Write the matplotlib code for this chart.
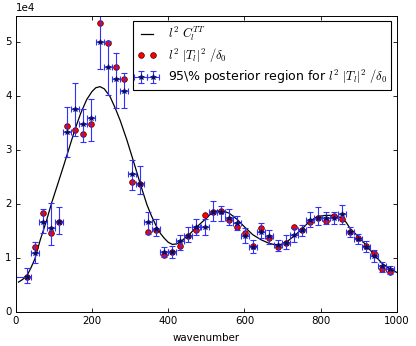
import matplotlib
matplotlib.use("Agg")
import matplotlib.pyplot as plt
import numpy as np

plt.style.use('classic')

# theory curve  l^2 C_l^TT  (units of 1e4)
curve_l = [7, 18, 30, 40, 50, 64, 80, 94, 110, 125, 140, 155, 170, 186, 200, 210,
           221, 232, 247, 261, 274, 291, 309, 326, 344, 356, 368, 380, 389, 400,
           411, 422, 432, 453, 474, 496, 512, 527, 545, 560, 580, 601, 622, 644,
           665, 677, 690, 700, 708, 729, 750, 771, 792, 813, 835, 856, 867, 877,
           898, 919, 940, 961, 983, 1000]
curve_v = [0.55, 0.60, 0.68, 0.82, 0.98, 1.33, 1.68, 2.02, 2.37, 2.70, 3.04, 3.38,
           3.68, 3.94, 4.09, 4.16, 4.18, 4.14, 4.00, 3.78, 3.55, 3.20, 2.79, 2.39,
           1.99, 1.78, 1.60, 1.45, 1.37, 1.29, 1.25, 1.26, 1.30, 1.42, 1.57, 1.71,
           1.82, 1.87, 1.87, 1.83, 1.72, 1.57, 1.43, 1.335, 1.27, 1.25, 1.245, 1.26,
           1.28, 1.40, 1.53, 1.68, 1.77, 1.79, 1.79, 1.74, 1.66, 1.55, 1.40, 1.24,
           1.06, 0.90, 0.79, 0.73]

# binned wavenumbers
bins_l = [29, 51, 72, 93, 114, 135, 156, 177, 198, 220, 241, 262, 284, 305, 326,
          347, 368, 389, 411, 432, 453, 474, 496, 517, 538, 560, 580, 601, 622,
          644, 665, 687, 708, 729, 750, 772, 793, 814, 835, 856, 877, 898, 919,
          940, 961, 983]
bin_lo = [29] + [10.5] * 45
bin_hi = [11] + [10.5] * 45

# l^2 |T_l|^2 / delta_0 (red dots)
true_v = [0.64, 1.21, 1.83, 1.46, 1.665, 3.445, 3.37, 3.30, 3.495, 5.37, 4.99, 4.55,
          4.32, 2.41, 2.37, 1.49, 1.515, 1.056, 1.117, 1.223, 1.415, 1.51, 1.79, 1.86,
          1.875, 1.71, 1.58, 1.46, 1.223, 1.553, 1.367, 1.21, 1.27, 1.58, 1.51, 1.66,
          1.74, 1.69, 1.77, 1.72, 1.48, 1.367, 1.223, 1.087, 0.80, 0.734]

# posterior estimate (stars) and 95% region
post_v = [0.652, 1.10, 1.665, 1.55, 1.665, 3.333, 3.756, 3.49, 3.59, 5.0, 4.54, 4.33,
          4.10, 2.55, 2.37, 1.665, 1.54, 1.117, 1.117, 1.317, 1.415, 1.58, 1.58, 1.86,
          1.845, 1.75, 1.645, 1.415, 1.21, 1.48, 1.40, 1.24, 1.285, 1.43, 1.51, 1.71,
          1.75, 1.75, 1.75, 1.81, 1.49, 1.355, 1.21, 1.037, 0.85, 0.79]
post_lo = [0.54, 0.91, 1.46, 1.24, 1.45, 2.87, 3.26, 3.15, 3.18, 4.5, 4.02, 3.79,
           3.79, 2.27, 2.18, 1.45, 1.40, 1.01, 0.99, 1.15, 1.30, 1.43, 1.43, 1.69,
           1.68, 1.61, 1.51, 1.285, 1.087, 1.367, 1.26, 1.136, 1.16, 1.30, 1.40, 1.58,
           1.61, 1.63, 1.63, 1.63, 1.385, 1.26, 1.115, 0.93, 0.745, 0.70]
post_hi = [0.82, 1.29, 1.91, 2.02, 1.94, 3.81, 4.24, 3.76, 3.955, 5.7, 5.03, 4.81,
           4.44, 2.825, 2.71, 1.86, 1.72, 1.20, 1.23, 1.43, 1.58, 1.73, 1.73, 2.05,
           1.97, 1.91, 1.78, 1.55, 1.335, 1.646, 1.52, 1.335, 1.43, 1.55, 1.61, 1.86,
           1.94, 1.86, 1.86, 1.99, 1.58, 1.45, 1.32, 1.15, 0.93, 0.85]

fs = 7.4
lfs = 9.0
plt.rcParams.update({
    'font.size': fs,
    'figure.facecolor': 'white',
    'savefig.facecolor': 'white',
    'axes.linewidth': 0.7,
    'xtick.major.size': 2.6, 'ytick.major.size': 2.6,
    'xtick.minor.size': 1.3, 'ytick.minor.size': 1.3,
    'xtick.major.width': 0.6, 'ytick.major.width': 0.6,
    'lines.linewidth': 0.8,
    'legend.fontsize': lfs,
    'mathtext.fontset': 'cm',
})

scale = 1e4
fig = plt.figure(figsize=(4.16, 3.46), dpi=100)
ax = fig.add_axes([0.038, 0.099, 0.916, 0.856])

ax.plot(np.array(curve_l), np.array(curve_v) * scale, 'k-', lw=0.9,
        label=r'$l^2\ C_l^{TT}$')
ax.plot(bins_l, np.array(true_v) * scale, 'o', color='red', markeredgecolor='#400000',
        markersize=4.1, markeredgewidth=0.5, label=r'$l^2\ |T_l|^2\ /\delta_0$')

pv = np.array(post_v) * scale
yerr = np.array([pv - np.array(post_lo) * scale, np.array(post_hi) * scale - pv])
xerr = np.array([bin_lo, bin_hi])
ax.errorbar(bins_l, pv, yerr=yerr, xerr=xerr, fmt='*', color='#0a0a60',
            markeredgecolor='#0a0a60', markersize=4.2, ecolor='#3030ff',
            elinewidth=0.8, capsize=1.9, capthick=0.8,
            label=r'95\% posterior region for $l^2\ |T_l|^2\ /\delta_0$')

ax.set_xlim(0, 1000)
ax.set_ylim(0, 55000)
ax.set_xticks([0, 200, 400, 600, 800, 1000])
ax.set_yticks([0, 10000, 20000, 30000, 40000, 50000])
ax.ticklabel_format(axis='y', style='sci', scilimits=(0, 0))
ax.set_xlabel('wavenumber')
ax.tick_params(pad=3)

leg = ax.legend(loc='upper right', numpoints=2, fontsize=lfs, borderaxespad=0.45,
                handlelength=1.6, handletextpad=0.9, labelspacing=0.28,
                borderpad=0.3)
leg.get_frame().set_linewidth(0.8)

fig.savefig('out.png', dpi=100)
